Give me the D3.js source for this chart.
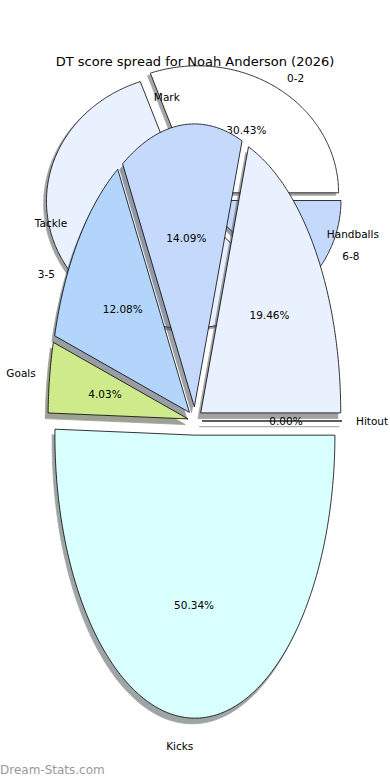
<!DOCTYPE html>
<html>
<head>
<meta charset="utf-8">
<script src="https://cdn.jsdelivr.net/npm/d3@7"></script>
<style>
  body { margin: 0; background: #fff; }
  text { font-family: "DejaVu Sans", sans-serif; fill: #000; }
</style>
</head>
<body>
<script>

var scoreRanges = ["0-2", "3-5", "6-8"],
    scoreCounts = [7, 13, 3];

var statNames = ["Hitout", "Handballs", "Mark", "Tackle", "Goals", "Kicks"],
    statPoints = [0, 58, 42, 36, 12, 150];

var sliceColours = ["#ffffff", "#eaf1fe", "#c5d9fd", "#b3d5fc", "#cfea8b", "#d8fefe"];

var title = "DT score spread for Noah Anderson (2026)";

var width = 390,
    height = 780,
    explode = 0.05,
    fontSize = 10.5;

var svg = d3.select("body").append("svg")
    .attr("width", width)
    .attr("height", height);

// the score spread pie lives in its own, flatter axes
var xOut = d3.scaleLinear().domain([-1.25, 1.25]).range([193.5 - 176.25, 193.5 + 176.25]);
var yOut = d3.scaleLinear().domain([-1.25, 1.25]).range([198 + 158.75, 198 - 158.75]);

// the stat pie is stretched tall
var xIn = d3.scaleLinear().domain([-1.25, 1.25]).range([20, 370]);
var yIn = d3.scaleLinear().domain([-1.25, 1.25]).range([421 + 353.75, 421 - 353.75]);

var pie = d3.pie().sort(null).startAngle(0).endAngle(2 * Math.PI);

function drawPie(values, labels, x, y) {
  var g = svg.append("g");
  var arcs = pie(values);
  var total = d3.sum(values);

  var line = d3.line()
      .x(function(d) { return x(d[0]); })
      .y(function(d) { return y(d[1]); });

  var wedges = arcs.map(function(a, i) {
    var tm = (a.startAngle + a.endAngle) / 2,
        ox = explode * Math.cos(tm),
        oy = explode * Math.sin(tm),
        pts = [[ox, oy]],
        steps = Math.max(1, Math.ceil((a.endAngle - a.startAngle) / 0.01));
    for (var k = 0; k <= steps; k++) {
      var t = a.startAngle + (a.endAngle - a.startAngle) * k / steps;
      pts.push([ox + Math.cos(t), oy + Math.sin(t)]);
    }
    return {pts: pts, tm: tm, ox: ox, oy: oy, colour: sliceColours[i], label: labels[i],
            pct: (100 * values[i] / total).toFixed(2) + "%"};
  });

  var sdx = x(-0.02) - x(0),
      sdy = y(-0.02) - y(0);

  function dark(d) {
    var c = d3.rgb(d.colour);
    return d3.rgb(c.r * 0.3, c.g * 0.3, c.b * 0.3);
  }

  // shadows sit under every wedge
  g.selectAll("path.shadow")
      .data(wedges)
    .enter().append("path")
      .attr("class", "shadow")
      .attr("transform", "translate(" + sdx + "," + sdy + ")")
      .attr("d", function(d) { return line(d.pts) + "Z"; })
      .attr("fill", dark)
      .attr("stroke", dark)
      .attr("stroke-width", 0.8)
      .attr("opacity", 0.5);

  g.selectAll("path.wedge")
      .data(wedges)
    .enter().append("path")
      .attr("class", "wedge")
      .attr("d", function(d) { return line(d.pts) + "Z"; })
      .attr("fill", function(d) { return d.colour; })
      .attr("stroke", "#000")
      .attr("stroke-width", 0.8);

  // labels at 1.1 radius, aligned by which side of zero they fall
  g.selectAll("text.label")
      .data(wedges)
    .enter().append("text")
      .attr("class", "label")
      .attr("x", function(d) { return x(d.ox + 1.1 * Math.cos(d.tm)); })
      .attr("y", function(d) { return y(d.oy + 1.1 * Math.sin(d.tm)); })
      .attr("dy", "0.35em")
      .attr("font-size", fontSize)
      .attr("text-anchor", function(d) { return d.ox + 1.1 * Math.cos(d.tm) > 0 ? "start" : "end"; })
      .text(function(d) { return d.label; });

  g.selectAll("text.pct")
      .data(wedges)
    .enter().append("text")
      .attr("class", "pct")
      .attr("x", function(d) { return x(d.ox + 0.6 * Math.cos(d.tm)); })
      .attr("y", function(d) { return y(d.oy + 0.6 * Math.sin(d.tm)); })
      .attr("dy", "0.35em")
      .attr("font-size", fontSize)
      .attr("text-anchor", "middle")
      .text(function(d) { return d.pct; });
}

drawPie(scoreCounts, scoreRanges, xOut, yOut);
drawPie(statPoints, statNames, xIn, yIn);

svg.append("text")
    .attr("x", 195)
    .attr("y", 65.5)
    .attr("text-anchor", "middle")
    .attr("font-size", 13)
    .text(title);

svg.append("text")
    .attr("x", 0)
    .attr("y", 774)
    .attr("font-size", 12)
    .style("fill", "#999")
    .text("Dream-Stats.com");

</script>
</body>
</html>
